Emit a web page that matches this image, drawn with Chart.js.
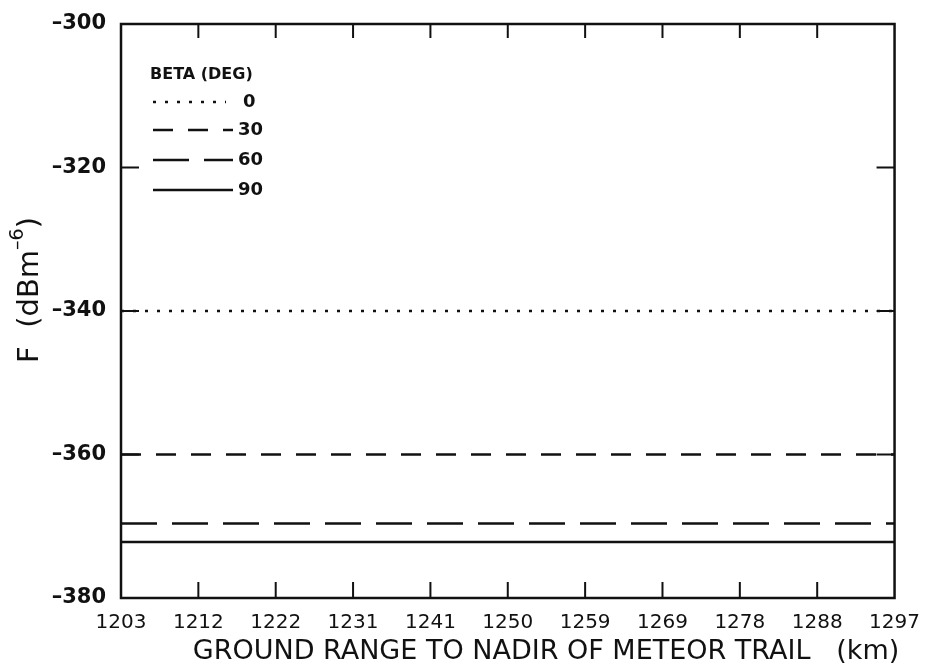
<!DOCTYPE html>
<html lang="en">
<head>
  <meta charset="UTF-8">
  <title>F vs ground range</title>
  <style>
    body { margin: 0; background: #fff; }
    #wrap { width: 925px; height: 669px; }
  </style>
</head>
<body>
  <div id="wrap"><canvas id="chart"></canvas></div>

  <script src="https://cdn.jsdelivr.net/npm/chart.js@4.4.1/dist/chart.umd.min.js"></script>
  <script>
    // data
    const xRange = [1203, 1297];
    const xTickLabels = ['1203', '1212', '1222', '1231', '1241', '1250', '1259', '1269', '1278', '1288', '1297'];
    const yTickLabels = [-300, -320, -340, -360, -380];
    const betaLabels = ['0', '30', '60', '90'];
    const fValues = [-340, -360, -369.6, -372.2];
    const dashStyles = [[3, 9], [20, 15], [36, 15], []];

    const ink = '#111';

    const datasets = betaLabels.map((b, i) => ({
      label: b,
      data: xRange.map(x => ({ x: x, y: fValues[i] })),
      borderColor: ink,
      borderWidth: 2.5,
      borderDash: dashStyles[i],
      pointRadius: 0,
      fill: false
    }));

    // frame, inward ticks, axis titles and the in-plot legend
    const framePlugin = {
      id: 'frame',
      afterDraw(chart) {
        const { ctx, chartArea: a, scales } = chart;
        ctx.save();
        ctx.strokeStyle = ink;
        ctx.lineWidth = 2.5;
        ctx.strokeRect(a.left, a.top, a.right - a.left, a.bottom - a.top);
        ctx.lineWidth = 2;
        scales.x.ticks.forEach((t, i) => {
          if (i === 0 || i === scales.x.ticks.length - 1) return;
          const px = scales.x.getPixelForValue(t.value);
          ctx.beginPath();
          ctx.moveTo(px, a.bottom); ctx.lineTo(px, a.bottom - 16);
          ctx.moveTo(px, a.top); ctx.lineTo(px, a.top + 14);
          ctx.stroke();
        });
        scales.y.ticks.forEach((t, i) => {
          if (i === 0 || i === scales.y.ticks.length - 1) return;
          const py = scales.y.getPixelForValue(t.value);
          ctx.beginPath();
          ctx.moveTo(a.left, py); ctx.lineTo(a.left + 18, py);
          ctx.moveTo(a.right, py); ctx.lineTo(a.right - 18, py);
          ctx.stroke();
        });

        ctx.fillStyle = ink;
        ctx.textBaseline = 'middle';

        // x title
        ctx.font = '27px "DejaVu Sans"';
        ctx.textAlign = 'center';
        ctx.fillText('GROUND RANGE TO NADIR OF METEOR TRAIL   (km)', 546, 652);

        // y title with superscript
        ctx.save();
        ctx.translate(30, 290);
        ctx.rotate(-Math.PI / 2);
        ctx.textAlign = 'left';
        const main = 'F  (dBm', sup = '\u2013' + '6', close = ')';
        ctx.font = '29px "DejaVu Sans"';
        const wMain = ctx.measureText(main).width, wClose = ctx.measureText(close).width;
        ctx.font = '19px "DejaVu Sans"';
        const wSup = ctx.measureText(sup).width;
        let x0 = -(wMain + wSup + wClose) / 2;
        ctx.font = '29px "DejaVu Sans"';
        ctx.fillText(main, x0, 0);
        ctx.font = '19px "DejaVu Sans"';
        ctx.fillText(sup, x0 + wMain, -12);
        ctx.font = '29px "DejaVu Sans"';
        ctx.fillText(close, x0 + wMain + wSup, 0);
        ctx.restore();

        // legend
        ctx.textAlign = 'left';
        ctx.font = 'bold 16px "DejaVu Sans"';
        ctx.fillText('BETA (DEG)', 150, 75);
        ctx.font = 'bold 18px "DejaVu Sans"';
        const rows = [102, 130, 160, 190];
        chart.data.datasets.forEach((ds, i) => {
          ctx.beginPath();
          ctx.setLineDash(ds.borderDash);
          ctx.lineWidth = ds.borderWidth;
          ctx.moveTo(153, rows[i]);
          ctx.lineTo(i === 0 ? 226 : 233, rows[i]);
          ctx.stroke();
          ctx.fillText(ds.label, i === 0 ? 243 : 238, rows[i]);
        });
        ctx.restore();
      }
    };

    new Chart(document.getElementById('chart'), {
      type: 'line',
      data: { datasets: datasets },
      options: {
        responsive: true,
        maintainAspectRatio: false,
        animation: false,
        layout: { padding: { top: 24, right: 28, left: 0, bottom: 0 } },
        plugins: { legend: { display: false }, tooltip: { enabled: false } },
        scales: {
          x: {
            type: 'linear',
            min: xRange[0],
            max: xRange[1],
            afterBuildTicks(scale) {
              const n = xTickLabels.length;
              scale.ticks = xTickLabels.map((l, i) => ({
                value: xRange[0] + i * (xRange[1] - xRange[0]) / (n - 1)
              }));
            },
            afterFit(scale) { scale.height = 71; },
            grid: { display: false },
            border: { display: false },
            ticks: {
              color: ink,
              padding: 5,
              maxRotation: 0,
              autoSkip: false,
              font: { family: 'DejaVu Sans', size: 20 },
              callback: (v, i) => xTickLabels[i]
            }
          },
          y: {
            min: -380,
            max: -300,
            afterBuildTicks(scale) {
              scale.ticks = yTickLabels.map(v => ({ value: v }));
            },
            afterFit(scale) { scale.width = 121; },
            grid: { display: false },
            border: { display: false },
            ticks: {
              color: ink,
              padding: 7,
              font: { family: 'DejaVu Sans', size: 21, weight: 'bold' },
              callback: v => String(v).replace('-', '\u2013')
            }
          }
        }
      },
      plugins: [framePlugin]
    });
  </script>
</body>
</html>
